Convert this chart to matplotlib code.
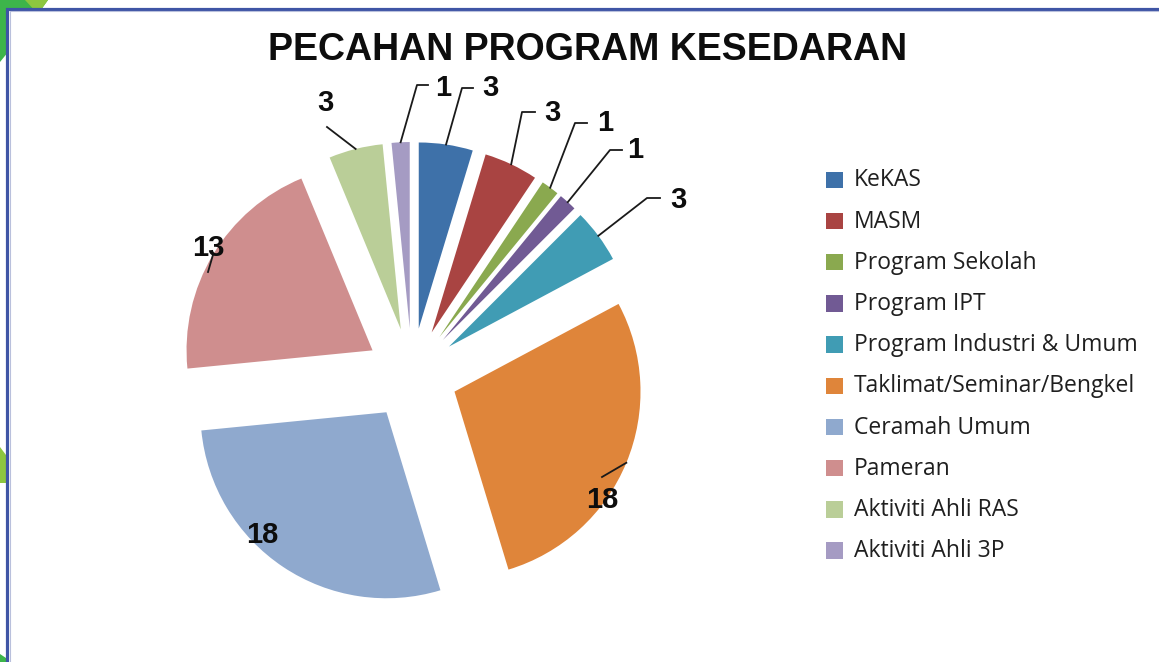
import matplotlib.pyplot as plt
from matplotlib.patches import Rectangle, Polygon
import numpy as np

# data
categories = ["KeKAS", "MASM", "Program Sekolah", "Program IPT", "Program Industri & Umum",
              "Taklimat/Seminar/Bengkel", "Ceramah Umum", "Pameran", "Aktiviti Ahli RAS",
              "Aktiviti Ahli 3P"]
values = [3, 3, 1, 1, 3, 18, 18, 13, 3, 1]
colors = ["#3E71A9", "#A94442", "#8AA94F", "#715A94", "#409CB4",
          "#DF853A", "#8FA9CE", "#CF8E8E", "#BACE98", "#A59BC3"]

# layout (pixel coordinates, y downwards)
center = (412, 374)
radius = 186
explode_px = 46
label_pos = [(490, 88), (552, 113), (605, 123), (635, 150), (678, 200),
             (602, 500), (262, 535), (208, 248), (325, 103), (443, 88)]
# leader line elbow + horizontal tail length (None = no leader)
elbow = [(462, 88), (522, 112), (575, 123), (610, 150), (647, 198),
         (602, 477), None, (208, 272), (327, 127), (417, 85)]
tail = [11, 13, 12, 12, 13, 0, 0, 0, 0, 11]

fig = plt.figure(figsize=(11.59, 6.62), dpi=100)
ax = fig.add_axes([0, 0, 1, 1])

# slide decorations behind the chart panel
ax.add_patch(Polygon([(0, 0), (48, 0), (30, 25), (0, 62)], closed=True,
                     facecolor="#3DB54A", edgecolor="none", zorder=0))
ax.add_patch(Polygon([(25, 0), (48, 0), (38, 14)], closed=True,
                     facecolor="#8DC63F", edgecolor="none", zorder=0))
ax.add_patch(Polygon([(0, 447), (6, 455), (6, 483), (0, 483)], closed=True,
                     facecolor="#8DC63F", edgecolor="none", zorder=0))
ax.add_patch(Polygon([(0, 654), (6, 658), (6, 662), (0, 662)], closed=True,
                     facecolor="#3DB54A", edgecolor="none", zorder=0))

# chart panel with border
ax.add_patch(Rectangle((6.5, 8.5), 1200, 700, facecolor="white",
                       edgecolor="#3F55A5", linewidth=2.3, zorder=0.5))
ax.add_patch(Rectangle((9.5, 11), 1200, 700, facecolor="none",
                       edgecolor="#B9C0DC", linewidth=0.8, zorder=0.6))

# explode is in data units (pixels here)
wedges, _ = ax.pie(values, colors=colors, startangle=270, counterclock=True,
                   center=center, radius=radius,
                   explode=[explode_px] * len(values),
                   wedgeprops=dict(linewidth=0))

ax.set_xlim(0, 1159)
ax.set_ylim(662, 0)
ax.set_aspect("auto")
ax.axis("off")

# data labels with leader lines
for i, w in enumerate(wedges):
    mid = np.deg2rad((w.theta1 + w.theta2) / 2)
    cx, cy = w.center
    sx = cx + w.r * np.cos(mid)
    sy = cy + w.r * np.sin(mid)
    if elbow[i] is not None:
        ex, ey = elbow[i]
        xs = [sx, ex, ex + tail[i]]
        ys = [sy, ey, ey]
        ax.plot(xs, ys, color="#1a1a1a", linewidth=1.3, zorder=3)
    lx, ly = label_pos[i]
    ax.text(lx, ly, str(values[i]), ha="center", va="center", fontsize=21,
            fontweight="bold", family="Liberation Sans", color="#0d0d0d", zorder=4)

# title
ax.text(588, 50, "PECAHAN PROGRAM KESEDARAN", ha="center", va="center",
        fontsize=27, fontweight="bold", family="Liberation Sans", color="#0d0d0d")

# legend
for i, (cat, col) in enumerate(zip(categories, colors)):
    y = 179.5 + i * 41.2
    ax.add_patch(Rectangle((826, y - 8), 16.5, 16.5, facecolor=col,
                           edgecolor="none", zorder=2))
    ax.text(854, y + 1, cat, ha="left", va="center", fontsize=16.5,
            family="Open Sans", color="#1f1f1f")

fig.savefig("out.png", dpi=100, facecolor="white")
